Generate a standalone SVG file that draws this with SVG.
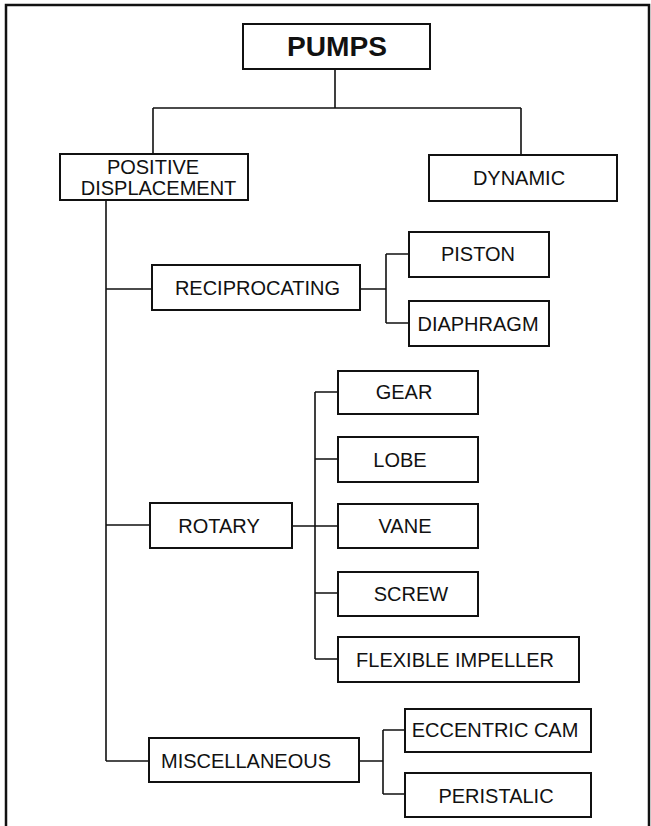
<svg xmlns="http://www.w3.org/2000/svg" width="651" height="826" viewBox="0 0 651 826">
<style>
.box{fill:#fff;stroke:#111;stroke-width:2}
.t{font-family:"Liberation Sans",Arial,sans-serif;font-size:20px;fill:#111;text-anchor:middle}
.tb{font-family:"Liberation Sans",Arial,sans-serif;font-size:27px;font-weight:bold;fill:#111;text-anchor:middle}
.c{fill:none;stroke:#111;stroke-width:1.6}
.frame{fill:none;stroke:#111;stroke-width:2.5}
</style>
<rect width="651" height="826" fill="#fff"/>
<path class="frame" d="M6,826 V5 H649 V826"/>
<g id="connectors">
<path class="c" d="M335,69 V108 M153,108 H521 M153,108 V154 M521,108 V155"/>
<path class="c" d="M106,200 V761 M106,289 H152 M106,525 H150 M106,761 H149"/>
<path class="c" d="M360,289 H386 M386,254 V323 M386,254 H409 M386,323 H409"/>
<path class="c" d="M292,526 H338 M315,392 V659 M315,392 H338 M315,459 H338 M315,593 H338 M315,659 H338"/>
<path class="c" d="M359,761 H383 M383,730 V794 M383,730 H405 M383,794 H405"/>
</g>
<g id="pumps"><rect class="box" x="243" y="24" width="187" height="45"/><text class="tb" x="337" y="56" textLength="100" lengthAdjust="spacingAndGlyphs">PUMPS</text></g>
<g id="positive"><rect class="box" x="60" y="154" width="188" height="46"/><text class="t" x="153" y="174">POSITIVE</text><text class="t" x="158.5" y="195">DISPLACEMENT</text></g>
<g id="dynamic"><rect class="box" x="429" y="155" width="188" height="46"/><text class="t" x="519" y="185">DYNAMIC</text></g>
<g id="reciprocating"><rect class="box" x="152" y="265" width="208" height="45"/><text class="t" x="257.5" y="294.5">RECIPROCATING</text></g>
<g id="piston"><rect class="box" x="409" y="232" width="140" height="45"/><text class="t" x="478" y="261">PISTON</text></g>
<g id="diaphragm"><rect class="box" x="409" y="301" width="140" height="45"/><text class="t" x="478" y="330.5">DIAPHRAGM</text></g>
<g id="gear"><rect class="box" x="338" y="371" width="140" height="43"/><text class="t" x="404" y="399">GEAR</text></g>
<g id="lobe"><rect class="box" x="338" y="437" width="140" height="45"/><text class="t" x="400" y="466.5">LOBE</text></g>
<g id="rotary"><rect class="box" x="150" y="503" width="142" height="45"/><text class="t" x="219" y="532.5">ROTARY</text></g>
<g id="vane"><rect class="box" x="338" y="504" width="140" height="44"/><text class="t" x="405" y="533">VANE</text></g>
<g id="screw"><rect class="box" x="338" y="572" width="140" height="44"/><text class="t" x="411" y="601">SCREW</text></g>
<g id="flexible-impeller"><rect class="box" x="338" y="637" width="241" height="45"/><text class="t" x="455" y="666.5">FLEXIBLE IMPELLER</text></g>
<g id="miscellaneous"><rect class="box" x="149" y="738" width="210" height="44"/><text class="t" x="246" y="767.5">MISCELLANEOUS</text></g>
<g id="eccentric-cam"><rect class="box" x="405" y="709" width="186" height="43"/><text class="t" x="495" y="737">ECCENTRIC CAM</text></g>
<g id="peristaltic"><rect class="box" x="405" y="773" width="186" height="44"/><text class="t" x="496" y="802.5">PERISTALIC</text></g>
</svg>
